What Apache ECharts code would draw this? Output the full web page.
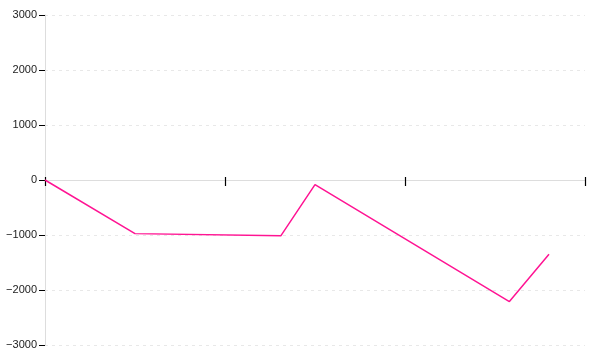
<!DOCTYPE html>
<html>
<head>
<meta charset="utf-8">
<script src="https://cdn.jsdelivr.net/npm/echarts@6/dist/echarts.min.js"></script>
<style>html,body{margin:0;padding:0;background:#fff}#c{width:600px;height:360px}</style>
</head>
<body>
<div id="c"></div>
<script>
var xValues = [0, 0.5, 1.31, 1.5, 2.58, 2.8];
var yValues = [0, -975, -1015, -85, -2210, -1350];
var yTicks = [-3000, -2000, -1000, 0, 1000, 2000, 3000];

var points = xValues.map(function (x, i) { return [x, yValues[i]]; });
var gridBox = { left: 45, right: 15, top: 15, bottom: 15, containLabel: false };
var chart = echarts.init(document.getElementById('c'), null, { renderer: 'canvas' });
chart.setOption({
  animation: false,
  grid: [gridBox, Object.assign({}, gridBox)],
  xAxis: [{
    type: 'value', gridIndex: 0, min: 0, max: 3, interval: 1,
    axisLine: { show: true, onZero: true, lineStyle: { color: '#dddddd', width: 1 } },
    axisTick: { show: true, inside: false, length: 6, lineStyle: { color: '#000', width: 1.2 } },
    axisLabel: { show: false },
    splitLine: { show: false }
  }, {
    type: 'value', gridIndex: 1, min: 0, max: 3, interval: 1,
    axisLine: { show: true, onZero: true, lineStyle: { color: '#dddddd', width: 1 } },
    axisTick: { show: true, inside: true, length: 3, lineStyle: { color: '#000', width: 1.2 } },
    axisLabel: { show: false },
    splitLine: { show: false }
  }],
  yAxis: [{
    type: 'value', gridIndex: 0, min: yTicks[0], max: yTicks[yTicks.length - 1], interval: 1000,
    axisLine: { show: true, onZero: false, lineStyle: { color: '#dddddd', width: 1 } },
    axisTick: { show: true, length: 6, lineStyle: { color: '#000', width: 1 } },
    axisLabel: {
      margin: 8, color: '#222', fontFamily: 'Liberation Sans', fontSize: 11,
      formatter: function (v) { return String(v).replace('-', '\u2212'); }
    },
    splitLine: { show: true, lineStyle: { color: '#e8e8e8', type: [3, 4], width: 1 } }
  }, {
    type: 'value', gridIndex: 1, min: yTicks[0], max: yTicks[yTicks.length - 1], interval: 1000,
    show: false
  }],
  series: [{
    type: 'line', data: points, xAxisIndex: 0, yAxisIndex: 0,
    showSymbol: false, symbol: 'none',
    lineStyle: { color: '#ff1493', width: 1.5 }
  }]
});
</script>
</body>
</html>
